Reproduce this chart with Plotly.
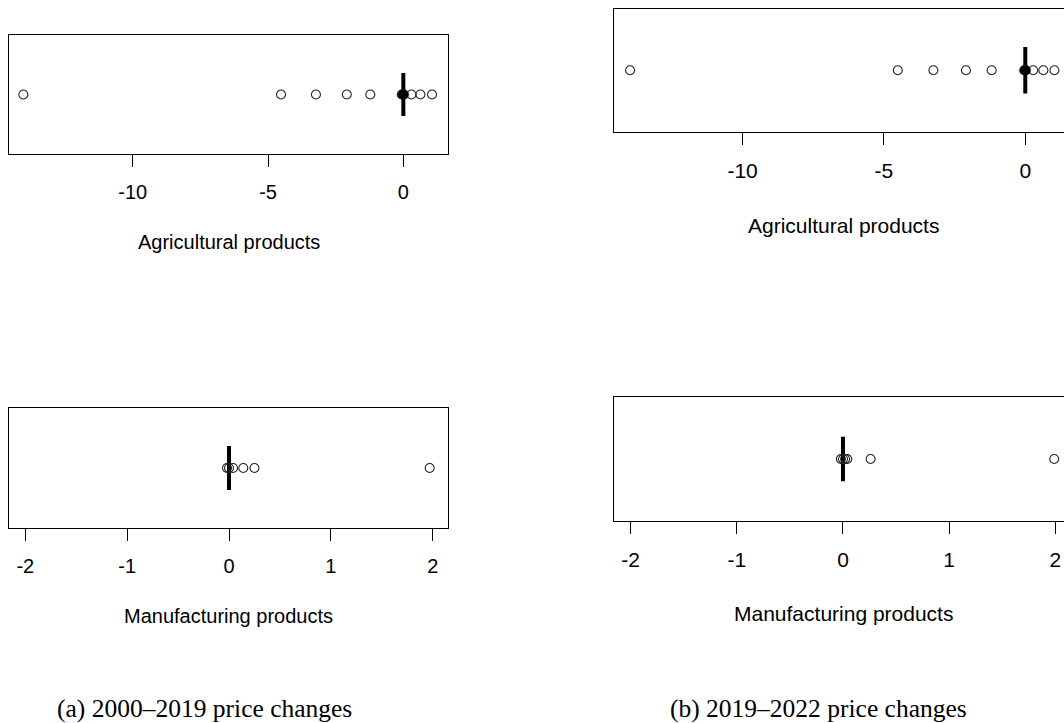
import plotly.graph_objects as go

W, H = 1064, 723

# ---------------- data ----------------
agri_a_outliers = [-14.04, -4.52, -3.23, -2.09, -1.22, -0.06, -0.02, 0.02, 0.30, 0.63, 1.06]
agri_a_stats = dict(lowerfence=0.0, q1=0.0, median=0.0, q3=0.0, upperfence=0.0)

agri_b_outliers = [-13.98, -4.51, -3.25, -2.10, -1.19, -0.04, -0.01, 0.02, 0.28, 0.64, 1.03]
agri_b_stats = dict(lowerfence=0.0, q1=0.0, median=0.0, q3=0.0, upperfence=0.0)

manu_a_outliers = [-0.02, 0.0, 0.04, 0.14, 0.25, 1.97]
manu_a_stats = dict(lowerfence=0.0, q1=0.0, median=0.0, q3=0.0, upperfence=0.0)

manu_b_outliers = [-0.02, 0.0, 0.02, 0.04, 0.26, 1.99]
manu_b_stats = dict(lowerfence=0.0, q1=0.0, median=0.0, q3=0.0, upperfence=0.0)

agri_ticks = [-10, -5, 0]
agri_ticktext = ["-10", "-5", "0"]
manu_ticks = [-2, -1, 0, 1, 2]
manu_ticktext = ["-2", "-1", "0", "1", "2"]

agri_title = "Agricultural products"
manu_title = "Manufacturing products"
caption_a = "(a) 2000\u20132019 price changes"
caption_b = "(b) 2019\u20132022 price changes"

# ---------------- layout helpers (page pixels -> paper) ----------------
def px_x(p):
    return p / W

def px_y(p):
    return 1 - p / H

SANS = "Liberation Sans, Arial, sans-serif"
SERIF = "Liberation Serif, Times New Roman, serif"

panels = [
    # (suffix, stats, outliers, ticks, ticktext, range, xdom px, ydom px, boxwidth, font, title, title_y, mirror_y, solid_median)
    ("", agri_a_stats, agri_a_outliers, agri_ticks, agri_ticktext, [-14.57, 1.65], (9, 448), (35, 154), 0.72, 20, agri_title, 242, True, True),
    ("2", agri_b_stats, agri_b_outliers, agri_ticks, agri_ticktext, [-14.55, 1.37], (614, 1064), (8.5, 132), 0.75, 21, agri_title, 225, False, True),
    ("3", manu_a_stats, manu_a_outliers, manu_ticks, manu_ticktext, [-2.16, 2.15], (9, 448), (408, 528), 0.73, 20, manu_title, 616, True, False),
    ("4", manu_b_stats, manu_b_outliers, manu_ticks, manu_ticktext, [-2.157, 2.082], (614, 1064), (397, 521), 0.72, 21, manu_title, 613, False, False),
]

fig = go.Figure()
layout = dict(
    width=W, height=H,
    margin=dict(l=0, r=0, t=0, b=0),
    paper_bgcolor="white", plot_bgcolor="white",
    showlegend=False,
    annotations=[],
)

for suf, st, outl, tv, tt, rng, xd, yd, bw, fs, title, ty, mirror_y, solid in panels:
    xa, ya = "x" + suf, "y" + suf
    fig.add_trace(go.Box(
        orientation="h", y=[0], q1=[st["q1"]], median=[st["median"]], q3=[st["q3"]],
        lowerfence=[st["lowerfence"]], upperfence=[st["upperfence"]],
        width=bw, boxpoints=False, line=dict(color="black", width=4),
        fillcolor="black", whiskerwidth=0, xaxis=xa, yaxis=ya, hoverinfo="skip",
    ))
    fig.add_trace(go.Scatter(
        x=outl, y=[0] * len(outl), mode="markers",
        marker=dict(symbol="circle-open", size=9, color="#222222", line=dict(width=1.1)),
        xaxis=xa, yaxis=ya, hoverinfo="skip",
    ))
    if solid:
        fig.add_trace(go.Scatter(
            x=[st["median"]], y=[0], mode="markers",
            marker=dict(symbol="circle", size=10, color="black"),
            xaxis=xa, yaxis=ya, hoverinfo="skip",
        ))
    layout["xaxis" + suf] = dict(
        domain=[px_x(xd[0]), min(1.0, px_x(xd[1]))], anchor=ya, range=rng,
        tickvals=tv, ticktext=tt, ticks="outside", ticklen=12, tickwidth=1,
        tickcolor="black", showline=True, linecolor="black", linewidth=1,
        mirror=True, showgrid=False, zeroline=False,
        tickfont=dict(family=SANS, size=fs, color="black"),
        ticklabelstandoff=8,
    )
    layout["yaxis" + suf] = dict(
        domain=[px_y(yd[1]), px_y(yd[0])], anchor=xa, range=[-1, 1],
        showticklabels=False, ticks="", showline=True, linecolor="black",
        linewidth=1, mirror=mirror_y, showgrid=False, zeroline=False,
    )
    layout["annotations"].append(dict(
        text=title, xref="paper", yref="paper",
        x=px_x((xd[0] + (xd[1] if mirror_y else 1072)) / 2), y=px_y(ty),
        xanchor="center", yanchor="middle", showarrow=False,
        font=dict(family=SANS, size=fs, color="black"),
    ))

for cap, cx in [(caption_a, 204), (caption_b, 818)]:
    layout["annotations"].append(dict(
        text=cap, xref="paper", yref="paper", x=px_x(cx), y=px_y(708),
        xanchor="center", yanchor="middle", showarrow=False,
        font=dict(family=SERIF, size=25.5, color="black"),
    ))

fig.update_layout(**layout)
fig.write_html(
    "out.html",
    config={"displayModeBar": False},
    post_script="document.body.style.margin='0';document.body.style.overflow='hidden';",
)
